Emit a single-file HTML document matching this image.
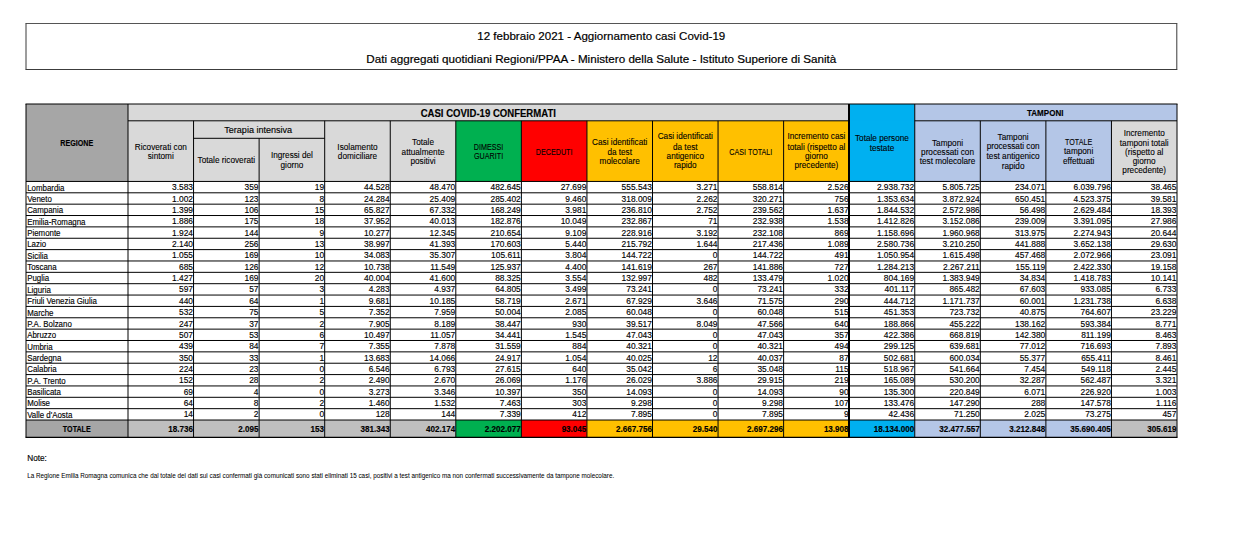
<!DOCTYPE html>
<html><head><meta charset="utf-8"><title>Covid-19 12 febbraio 2021</title>
<style>
html,body{margin:0;padding:0;background:#fff;}
body{width:1238px;height:558px;overflow:hidden;}
svg{display:block;font-family:"Liberation Sans",sans-serif;}
</style></head><body>
<svg width="1238" height="558" viewBox="0 0 1238 558">
<rect x="0" y="0" width="1238" height="558" fill="#fff"/>
<line x1="25.50" y1="23.50" x2="1177.30" y2="23.50" stroke="#555" stroke-width="1"/>
<line x1="25.50" y1="69.50" x2="1177.30" y2="69.50" stroke="#3c3c3c" stroke-width="1"/>
<line x1="26.00" y1="23.50" x2="26.00" y2="69.50" stroke="#3a3a3a" stroke-width="1"/>
<line x1="1176.80" y1="23.50" x2="1176.80" y2="69.50" stroke="#3a3a3a" stroke-width="1"/>
<text x="601.30" y="39.80" font-size="11.4" stroke="#000" stroke-width="0.2" text-anchor="middle" textLength="248.0" lengthAdjust="spacingAndGlyphs">12 febbraio 2021 - Aggiornamento casi Covid-19</text>
<text x="601.30" y="62.50" font-size="11.4" stroke="#000" stroke-width="0.2" text-anchor="middle" textLength="470.0" lengthAdjust="spacingAndGlyphs">Dati aggregati quotidiani Regioni/PPAA - Ministero della Salute - Istituto Superiore di Sanità</text>
<rect x="26.00" y="104.00" width="102.00" height="77.50" fill="#a6a6a6"/>
<rect x="128.00" y="104.00" width="721.19" height="16.80" fill="#d9d9d9"/>
<rect x="849.19" y="104.00" width="65.56" height="77.50" fill="#00b0f0"/>
<rect x="914.75" y="104.00" width="262.25" height="16.80" fill="#b4c6e7"/>
<rect x="128.00" y="120.80" width="65.56" height="60.70" fill="#d9d9d9"/>
<rect x="193.56" y="120.80" width="65.56" height="60.70" fill="#d9d9d9"/>
<rect x="259.12" y="120.80" width="65.56" height="60.70" fill="#d9d9d9"/>
<rect x="324.69" y="120.80" width="65.56" height="60.70" fill="#d9d9d9"/>
<rect x="390.25" y="120.80" width="65.56" height="60.70" fill="#d9d9d9"/>
<rect x="455.81" y="120.80" width="65.56" height="60.70" fill="#00b050"/>
<rect x="521.38" y="120.80" width="65.56" height="60.70" fill="#ff0000"/>
<rect x="586.94" y="120.80" width="65.56" height="60.70" fill="#ffc000"/>
<rect x="652.50" y="120.80" width="65.56" height="60.70" fill="#ffc000"/>
<rect x="718.06" y="120.80" width="65.56" height="60.70" fill="#ffc000"/>
<rect x="783.62" y="120.80" width="65.56" height="60.70" fill="#ffc000"/>
<rect x="849.19" y="120.80" width="65.56" height="60.70" fill="#00b0f0"/>
<rect x="914.75" y="120.80" width="65.56" height="60.70" fill="#b4c6e7"/>
<rect x="980.31" y="120.80" width="65.56" height="60.70" fill="#b4c6e7"/>
<rect x="1045.88" y="120.80" width="65.56" height="60.70" fill="#b4c6e7"/>
<rect x="1111.44" y="120.80" width="65.56" height="60.70" fill="#d9d9d9"/>
<rect x="26.00" y="420.02" width="102.00" height="17.38" fill="#a6a6a6"/>
<rect x="128.00" y="420.02" width="65.56" height="17.38" fill="#bfbfbf"/>
<rect x="193.56" y="420.02" width="65.56" height="17.38" fill="#bfbfbf"/>
<rect x="259.12" y="420.02" width="65.56" height="17.38" fill="#bfbfbf"/>
<rect x="324.69" y="420.02" width="65.56" height="17.38" fill="#bfbfbf"/>
<rect x="390.25" y="420.02" width="65.56" height="17.38" fill="#bfbfbf"/>
<rect x="455.81" y="420.02" width="65.56" height="17.38" fill="#00b050"/>
<rect x="521.38" y="420.02" width="65.56" height="17.38" fill="#ff0000"/>
<rect x="586.94" y="420.02" width="65.56" height="17.38" fill="#ffc000"/>
<rect x="652.50" y="420.02" width="65.56" height="17.38" fill="#ffc000"/>
<rect x="718.06" y="420.02" width="65.56" height="17.38" fill="#ffc000"/>
<rect x="783.62" y="420.02" width="65.56" height="17.38" fill="#ffc000"/>
<rect x="849.19" y="420.02" width="65.56" height="17.38" fill="#00b0f0"/>
<rect x="914.75" y="420.02" width="65.56" height="17.38" fill="#b4c6e7"/>
<rect x="980.31" y="420.02" width="65.56" height="17.38" fill="#b4c6e7"/>
<rect x="1045.88" y="420.02" width="65.56" height="17.38" fill="#b4c6e7"/>
<rect x="1111.44" y="420.02" width="65.56" height="17.38" fill="#bfbfbf"/>
<line x1="25.50" y1="104.00" x2="1177.50" y2="104.00" stroke="#000" stroke-width="1"/>
<line x1="128.00" y1="120.80" x2="849.19" y2="120.80" stroke="#000" stroke-width="1"/>
<line x1="914.75" y1="120.80" x2="1177.00" y2="120.80" stroke="#000" stroke-width="1"/>
<line x1="193.56" y1="138.30" x2="324.69" y2="138.30" stroke="#000" stroke-width="1"/>
<line x1="26.00" y1="181.44" x2="1177.00" y2="181.44" stroke="#000" stroke-width="1"/>
<line x1="26.00" y1="192.80" x2="1177.00" y2="192.80" stroke="#000" stroke-width="1"/>
<line x1="26.00" y1="204.16" x2="1177.00" y2="204.16" stroke="#000" stroke-width="1"/>
<line x1="26.00" y1="215.52" x2="1177.00" y2="215.52" stroke="#000" stroke-width="1"/>
<line x1="26.00" y1="226.88" x2="1177.00" y2="226.88" stroke="#000" stroke-width="1"/>
<line x1="26.00" y1="238.25" x2="1177.00" y2="238.25" stroke="#000" stroke-width="1"/>
<line x1="26.00" y1="249.61" x2="1177.00" y2="249.61" stroke="#000" stroke-width="1"/>
<line x1="26.00" y1="260.97" x2="1177.00" y2="260.97" stroke="#000" stroke-width="1"/>
<line x1="26.00" y1="272.33" x2="1177.00" y2="272.33" stroke="#000" stroke-width="1"/>
<line x1="26.00" y1="283.69" x2="1177.00" y2="283.69" stroke="#000" stroke-width="1"/>
<line x1="26.00" y1="295.05" x2="1177.00" y2="295.05" stroke="#000" stroke-width="1"/>
<line x1="26.00" y1="306.41" x2="1177.00" y2="306.41" stroke="#000" stroke-width="1"/>
<line x1="26.00" y1="317.77" x2="1177.00" y2="317.77" stroke="#000" stroke-width="1"/>
<line x1="26.00" y1="329.13" x2="1177.00" y2="329.13" stroke="#000" stroke-width="1"/>
<line x1="26.00" y1="340.49" x2="1177.00" y2="340.49" stroke="#000" stroke-width="1"/>
<line x1="26.00" y1="351.86" x2="1177.00" y2="351.86" stroke="#000" stroke-width="1"/>
<line x1="26.00" y1="363.22" x2="1177.00" y2="363.22" stroke="#000" stroke-width="1"/>
<line x1="26.00" y1="374.58" x2="1177.00" y2="374.58" stroke="#000" stroke-width="1"/>
<line x1="26.00" y1="385.94" x2="1177.00" y2="385.94" stroke="#000" stroke-width="1"/>
<line x1="26.00" y1="397.30" x2="1177.00" y2="397.30" stroke="#000" stroke-width="1"/>
<line x1="26.00" y1="408.66" x2="1177.00" y2="408.66" stroke="#000" stroke-width="1"/>
<line x1="26.00" y1="420.02" x2="1177.00" y2="420.02" stroke="#000" stroke-width="1"/>
<line x1="25.50" y1="437.40" x2="1177.50" y2="437.40" stroke="#000" stroke-width="1.2"/>
<line x1="26.00" y1="104.00" x2="26.00" y2="437.40" stroke="#000" stroke-width="1"/>
<line x1="128.00" y1="104.00" x2="128.00" y2="437.40" stroke="#000" stroke-width="1"/>
<line x1="193.56" y1="120.80" x2="193.56" y2="437.40" stroke="#000" stroke-width="1"/>
<line x1="259.12" y1="138.30" x2="259.12" y2="437.40" stroke="#000" stroke-width="1"/>
<line x1="324.69" y1="120.80" x2="324.69" y2="437.40" stroke="#000" stroke-width="1"/>
<line x1="390.25" y1="120.80" x2="390.25" y2="437.40" stroke="#000" stroke-width="1"/>
<line x1="455.81" y1="120.80" x2="455.81" y2="437.40" stroke="#000" stroke-width="1"/>
<line x1="521.38" y1="120.80" x2="521.38" y2="437.40" stroke="#000" stroke-width="1"/>
<line x1="586.94" y1="120.80" x2="586.94" y2="437.40" stroke="#000" stroke-width="1"/>
<line x1="652.50" y1="120.80" x2="652.50" y2="437.40" stroke="#000" stroke-width="1"/>
<line x1="718.06" y1="120.80" x2="718.06" y2="437.40" stroke="#000" stroke-width="1"/>
<line x1="783.62" y1="120.80" x2="783.62" y2="437.40" stroke="#000" stroke-width="1"/>
<line x1="849.0" y1="104.00" x2="849.0" y2="437.40" stroke="#000" stroke-width="2"/>
<line x1="914.75" y1="104.00" x2="914.75" y2="437.40" stroke="#000" stroke-width="1"/>
<line x1="980.31" y1="120.80" x2="980.31" y2="437.40" stroke="#000" stroke-width="1"/>
<line x1="1045.88" y1="120.80" x2="1045.88" y2="437.40" stroke="#000" stroke-width="1"/>
<line x1="1111.44" y1="120.80" x2="1111.44" y2="437.40" stroke="#000" stroke-width="1"/>
<line x1="1177.00" y1="104.00" x2="1177.00" y2="437.40" stroke="#000" stroke-width="1"/>
<text x="76.80" y="145.80" font-size="8.3" stroke="#000" stroke-width="0.14" text-anchor="middle" font-weight="bold" textLength="33.0" lengthAdjust="spacingAndGlyphs">REGIONE</text>
<text x="488.30" y="116.80" font-size="10.2" stroke="#000" stroke-width="0.14" text-anchor="middle" font-weight="bold" textLength="135.2" lengthAdjust="spacingAndGlyphs">CASI COVID-19 CONFERMATI</text>
<text x="1045.20" y="115.90" font-size="8.5" stroke="#000" stroke-width="0.14" text-anchor="middle" font-weight="bold" textLength="36.4" lengthAdjust="spacingAndGlyphs">TAMPONI</text>
<text x="258.20" y="132.90" font-size="9.4" stroke="#000" stroke-width="0.14" text-anchor="middle" textLength="67.9" lengthAdjust="spacingAndGlyphs">Terapia intensiva</text>
<text x="160.78" y="150.30" font-size="8.4" stroke="#000" stroke-width="0.1" text-anchor="middle" textLength="52.0" lengthAdjust="spacingAndGlyphs">Ricoverati con</text>
<text x="160.78" y="159.20" font-size="8.4" stroke="#000" stroke-width="0.1" text-anchor="middle" textLength="26.0" lengthAdjust="spacingAndGlyphs">sintomi</text>
<text x="226.34" y="163.30" font-size="8.4" stroke="#000" stroke-width="0.1" text-anchor="middle" textLength="57.5" lengthAdjust="spacingAndGlyphs">Totale ricoverati</text>
<text x="291.91" y="157.70" font-size="8.4" stroke="#000" stroke-width="0.1" text-anchor="middle" textLength="42.0" lengthAdjust="spacingAndGlyphs">Ingressi del</text>
<text x="291.91" y="168.00" font-size="8.4" stroke="#000" stroke-width="0.1" text-anchor="middle" textLength="22.8" lengthAdjust="spacingAndGlyphs">giorno</text>
<text x="357.47" y="150.20" font-size="8.4" stroke="#000" stroke-width="0.1" text-anchor="middle" textLength="40.2" lengthAdjust="spacingAndGlyphs">Isolamento</text>
<text x="357.47" y="159.40" font-size="8.4" stroke="#000" stroke-width="0.1" text-anchor="middle" textLength="39.2" lengthAdjust="spacingAndGlyphs">domiciliare</text>
<text x="423.03" y="145.20" font-size="8.4" stroke="#000" stroke-width="0.1" text-anchor="middle" textLength="21.9" lengthAdjust="spacingAndGlyphs">Totale</text>
<text x="423.03" y="155.00" font-size="8.4" stroke="#000" stroke-width="0.1" text-anchor="middle" textLength="42.9" lengthAdjust="spacingAndGlyphs">attualmente</text>
<text x="423.03" y="163.70" font-size="8.4" stroke="#000" stroke-width="0.1" text-anchor="middle" textLength="25.1" lengthAdjust="spacingAndGlyphs">positivi</text>
<text x="488.59" y="150.20" font-size="8.4" stroke="#000" stroke-width="0.1" text-anchor="middle" textLength="29.5" lengthAdjust="spacingAndGlyphs">DIMESSI</text>
<text x="488.59" y="159.40" font-size="8.4" stroke="#000" stroke-width="0.1" text-anchor="middle" textLength="29.1" lengthAdjust="spacingAndGlyphs">GUARITI</text>
<text x="554.16" y="155.00" font-size="8.4" stroke="#000" stroke-width="0.1" text-anchor="middle" textLength="36.6" lengthAdjust="spacingAndGlyphs">DECEDUTI</text>
<text x="619.72" y="144.60" font-size="8.4" stroke="#000" stroke-width="0.1" text-anchor="middle" textLength="55.2" lengthAdjust="spacingAndGlyphs">Casi identificati</text>
<text x="619.72" y="154.80" font-size="8.4" stroke="#000" stroke-width="0.1" text-anchor="middle" textLength="24.6" lengthAdjust="spacingAndGlyphs">da test</text>
<text x="619.72" y="163.80" font-size="8.4" stroke="#000" stroke-width="0.1" text-anchor="middle" textLength="40.2" lengthAdjust="spacingAndGlyphs">molecolare</text>
<text x="685.28" y="139.40" font-size="8.4" stroke="#000" stroke-width="0.1" text-anchor="middle" textLength="55.2" lengthAdjust="spacingAndGlyphs">Casi identificati</text>
<text x="685.28" y="149.80" font-size="8.4" stroke="#000" stroke-width="0.1" text-anchor="middle" textLength="24.6" lengthAdjust="spacingAndGlyphs">da test</text>
<text x="685.28" y="158.90" font-size="8.4" stroke="#000" stroke-width="0.1" text-anchor="middle" textLength="37.4" lengthAdjust="spacingAndGlyphs">antigenico</text>
<text x="685.28" y="168.40" font-size="8.4" stroke="#000" stroke-width="0.1" text-anchor="middle" textLength="22.8" lengthAdjust="spacingAndGlyphs">rapido</text>
<text x="750.84" y="154.80" font-size="8.4" stroke="#000" stroke-width="0.1" text-anchor="middle" textLength="43.0" lengthAdjust="spacingAndGlyphs">CASI TOTALI</text>
<text x="816.41" y="139.40" font-size="8.4" stroke="#000" stroke-width="0.1" text-anchor="middle" textLength="58.0" lengthAdjust="spacingAndGlyphs">Incremento casi</text>
<text x="816.41" y="149.80" font-size="8.4" stroke="#000" stroke-width="0.1" text-anchor="middle" textLength="58.0" lengthAdjust="spacingAndGlyphs">totali (rispetto al</text>
<text x="816.41" y="158.90" font-size="8.4" stroke="#000" stroke-width="0.1" text-anchor="middle" textLength="22.8" lengthAdjust="spacingAndGlyphs">giorno</text>
<text x="816.41" y="168.40" font-size="8.4" stroke="#000" stroke-width="0.1" text-anchor="middle" textLength="43.8" lengthAdjust="spacingAndGlyphs">precedente)</text>
<text x="881.97" y="141.10" font-size="8.4" stroke="#000" stroke-width="0.1" text-anchor="middle" textLength="53.9" lengthAdjust="spacingAndGlyphs">Totale persone</text>
<text x="881.97" y="151.30" font-size="8.4" stroke="#000" stroke-width="0.1" text-anchor="middle" textLength="24.6" lengthAdjust="spacingAndGlyphs">testate</text>
<text x="947.53" y="145.80" font-size="8.4" stroke="#000" stroke-width="0.1" text-anchor="middle" textLength="31.0" lengthAdjust="spacingAndGlyphs">Tamponi</text>
<text x="947.53" y="154.90" font-size="8.4" stroke="#000" stroke-width="0.1" text-anchor="middle" textLength="52.9" lengthAdjust="spacingAndGlyphs">processati con</text>
<text x="947.53" y="163.70" font-size="8.4" stroke="#000" stroke-width="0.1" text-anchor="middle" textLength="55.7" lengthAdjust="spacingAndGlyphs">test molecolare</text>
<text x="1013.09" y="139.90" font-size="8.4" stroke="#000" stroke-width="0.1" text-anchor="middle" textLength="31.0" lengthAdjust="spacingAndGlyphs">Tamponi</text>
<text x="1013.09" y="149.40" font-size="8.4" stroke="#000" stroke-width="0.1" text-anchor="middle" textLength="52.9" lengthAdjust="spacingAndGlyphs">processati con</text>
<text x="1013.09" y="159.00" font-size="8.4" stroke="#000" stroke-width="0.1" text-anchor="middle" textLength="53.0" lengthAdjust="spacingAndGlyphs">test antigenico</text>
<text x="1013.09" y="168.60" font-size="8.4" stroke="#000" stroke-width="0.1" text-anchor="middle" textLength="22.8" lengthAdjust="spacingAndGlyphs">rapido</text>
<text x="1078.66" y="145.00" font-size="8.4" stroke="#000" stroke-width="0.1" text-anchor="middle" textLength="27.2" lengthAdjust="spacingAndGlyphs">TOTALE</text>
<text x="1078.66" y="154.10" font-size="8.4" stroke="#000" stroke-width="0.1" text-anchor="middle" textLength="29.2" lengthAdjust="spacingAndGlyphs">tamponi</text>
<text x="1078.66" y="163.70" font-size="8.4" stroke="#000" stroke-width="0.1" text-anchor="middle" textLength="31.3" lengthAdjust="spacingAndGlyphs">effettuati</text>
<text x="1144.22" y="136.20" font-size="8.4" stroke="#000" stroke-width="0.1" text-anchor="middle" textLength="41.1" lengthAdjust="spacingAndGlyphs">Incremento</text>
<text x="1144.22" y="145.80" font-size="8.4" stroke="#000" stroke-width="0.1" text-anchor="middle" textLength="48.8" lengthAdjust="spacingAndGlyphs">tamponi totali</text>
<text x="1144.22" y="154.90" font-size="8.4" stroke="#000" stroke-width="0.1" text-anchor="middle" textLength="38.3" lengthAdjust="spacingAndGlyphs">(rispetto al</text>
<text x="1144.22" y="163.70" font-size="8.4" stroke="#000" stroke-width="0.1" text-anchor="middle" textLength="22.8" lengthAdjust="spacingAndGlyphs">giorno</text>
<text x="1144.22" y="173.30" font-size="8.4" stroke="#000" stroke-width="0.1" text-anchor="middle" textLength="43.8" lengthAdjust="spacingAndGlyphs">precedente)</text>
<text x="27.20" y="190.60" font-size="8.3" stroke="#000" stroke-width="0.14" textLength="37.3" lengthAdjust="spacingAndGlyphs">Lombardia</text>
<text x="192.96" y="190.20" font-size="8.4" stroke="#000" stroke-width="0.14" text-anchor="end">3.583</text>
<text x="258.52" y="190.20" font-size="8.4" stroke="#000" stroke-width="0.14" text-anchor="end">359</text>
<text x="324.09" y="190.20" font-size="8.4" stroke="#000" stroke-width="0.14" text-anchor="end">19</text>
<text x="389.65" y="190.20" font-size="8.4" stroke="#000" stroke-width="0.14" text-anchor="end">44.528</text>
<text x="455.21" y="190.20" font-size="8.4" stroke="#000" stroke-width="0.14" text-anchor="end">48.470</text>
<text x="520.77" y="190.20" font-size="8.4" stroke="#000" stroke-width="0.14" text-anchor="end">482.645</text>
<text x="586.34" y="190.20" font-size="8.4" stroke="#000" stroke-width="0.14" text-anchor="end">27.699</text>
<text x="651.90" y="190.20" font-size="8.4" stroke="#000" stroke-width="0.14" text-anchor="end">555.543</text>
<text x="717.46" y="190.20" font-size="8.4" stroke="#000" stroke-width="0.14" text-anchor="end">3.271</text>
<text x="783.02" y="190.20" font-size="8.4" stroke="#000" stroke-width="0.14" text-anchor="end">558.814</text>
<text x="848.59" y="190.20" font-size="8.4" stroke="#000" stroke-width="0.14" text-anchor="end">2.526</text>
<text x="914.15" y="190.20" font-size="8.4" stroke="#000" stroke-width="0.14" text-anchor="end">2.938.732</text>
<text x="979.71" y="190.20" font-size="8.4" stroke="#000" stroke-width="0.14" text-anchor="end">5.805.725</text>
<text x="1045.28" y="190.20" font-size="8.4" stroke="#000" stroke-width="0.14" text-anchor="end">234.071</text>
<text x="1110.84" y="190.20" font-size="8.4" stroke="#000" stroke-width="0.14" text-anchor="end">6.039.796</text>
<text x="1176.40" y="190.20" font-size="8.4" stroke="#000" stroke-width="0.14" text-anchor="end">38.465</text>
<text x="27.20" y="201.96" font-size="8.3" stroke="#000" stroke-width="0.14" textLength="24.6" lengthAdjust="spacingAndGlyphs">Veneto</text>
<text x="192.96" y="201.56" font-size="8.4" stroke="#000" stroke-width="0.14" text-anchor="end">1.002</text>
<text x="258.52" y="201.56" font-size="8.4" stroke="#000" stroke-width="0.14" text-anchor="end">123</text>
<text x="324.09" y="201.56" font-size="8.4" stroke="#000" stroke-width="0.14" text-anchor="end">8</text>
<text x="389.65" y="201.56" font-size="8.4" stroke="#000" stroke-width="0.14" text-anchor="end">24.284</text>
<text x="455.21" y="201.56" font-size="8.4" stroke="#000" stroke-width="0.14" text-anchor="end">25.409</text>
<text x="520.77" y="201.56" font-size="8.4" stroke="#000" stroke-width="0.14" text-anchor="end">285.402</text>
<text x="586.34" y="201.56" font-size="8.4" stroke="#000" stroke-width="0.14" text-anchor="end">9.460</text>
<text x="651.90" y="201.56" font-size="8.4" stroke="#000" stroke-width="0.14" text-anchor="end">318.009</text>
<text x="717.46" y="201.56" font-size="8.4" stroke="#000" stroke-width="0.14" text-anchor="end">2.262</text>
<text x="783.02" y="201.56" font-size="8.4" stroke="#000" stroke-width="0.14" text-anchor="end">320.271</text>
<text x="848.59" y="201.56" font-size="8.4" stroke="#000" stroke-width="0.14" text-anchor="end">756</text>
<text x="914.15" y="201.56" font-size="8.4" stroke="#000" stroke-width="0.14" text-anchor="end">1.353.634</text>
<text x="979.71" y="201.56" font-size="8.4" stroke="#000" stroke-width="0.14" text-anchor="end">3.872.924</text>
<text x="1045.28" y="201.56" font-size="8.4" stroke="#000" stroke-width="0.14" text-anchor="end">650.451</text>
<text x="1110.84" y="201.56" font-size="8.4" stroke="#000" stroke-width="0.14" text-anchor="end">4.523.375</text>
<text x="1176.40" y="201.56" font-size="8.4" stroke="#000" stroke-width="0.14" text-anchor="end">39.581</text>
<text x="27.20" y="213.32" font-size="8.3" stroke="#000" stroke-width="0.14" textLength="35.9" lengthAdjust="spacingAndGlyphs">Campania</text>
<text x="192.96" y="212.92" font-size="8.4" stroke="#000" stroke-width="0.14" text-anchor="end">1.399</text>
<text x="258.52" y="212.92" font-size="8.4" stroke="#000" stroke-width="0.14" text-anchor="end">106</text>
<text x="324.09" y="212.92" font-size="8.4" stroke="#000" stroke-width="0.14" text-anchor="end">15</text>
<text x="389.65" y="212.92" font-size="8.4" stroke="#000" stroke-width="0.14" text-anchor="end">65.827</text>
<text x="455.21" y="212.92" font-size="8.4" stroke="#000" stroke-width="0.14" text-anchor="end">67.332</text>
<text x="520.77" y="212.92" font-size="8.4" stroke="#000" stroke-width="0.14" text-anchor="end">168.249</text>
<text x="586.34" y="212.92" font-size="8.4" stroke="#000" stroke-width="0.14" text-anchor="end">3.981</text>
<text x="651.90" y="212.92" font-size="8.4" stroke="#000" stroke-width="0.14" text-anchor="end">236.810</text>
<text x="717.46" y="212.92" font-size="8.4" stroke="#000" stroke-width="0.14" text-anchor="end">2.752</text>
<text x="783.02" y="212.92" font-size="8.4" stroke="#000" stroke-width="0.14" text-anchor="end">239.562</text>
<text x="848.59" y="212.92" font-size="8.4" stroke="#000" stroke-width="0.14" text-anchor="end">1.637</text>
<text x="914.15" y="212.92" font-size="8.4" stroke="#000" stroke-width="0.14" text-anchor="end">1.844.532</text>
<text x="979.71" y="212.92" font-size="8.4" stroke="#000" stroke-width="0.14" text-anchor="end">2.572.986</text>
<text x="1045.28" y="212.92" font-size="8.4" stroke="#000" stroke-width="0.14" text-anchor="end">56.498</text>
<text x="1110.84" y="212.92" font-size="8.4" stroke="#000" stroke-width="0.14" text-anchor="end">2.629.484</text>
<text x="1176.40" y="212.92" font-size="8.4" stroke="#000" stroke-width="0.14" text-anchor="end">18.393</text>
<text x="27.20" y="224.68" font-size="8.3" stroke="#000" stroke-width="0.14" textLength="58.3" lengthAdjust="spacingAndGlyphs">Emilia-Romagna</text>
<text x="192.96" y="224.28" font-size="8.4" stroke="#000" stroke-width="0.14" text-anchor="end">1.886</text>
<text x="258.52" y="224.28" font-size="8.4" stroke="#000" stroke-width="0.14" text-anchor="end">175</text>
<text x="324.09" y="224.28" font-size="8.4" stroke="#000" stroke-width="0.14" text-anchor="end">18</text>
<text x="389.65" y="224.28" font-size="8.4" stroke="#000" stroke-width="0.14" text-anchor="end">37.952</text>
<text x="455.21" y="224.28" font-size="8.4" stroke="#000" stroke-width="0.14" text-anchor="end">40.013</text>
<text x="520.77" y="224.28" font-size="8.4" stroke="#000" stroke-width="0.14" text-anchor="end">182.876</text>
<text x="586.34" y="224.28" font-size="8.4" stroke="#000" stroke-width="0.14" text-anchor="end">10.049</text>
<text x="651.90" y="224.28" font-size="8.4" stroke="#000" stroke-width="0.14" text-anchor="end">232.867</text>
<text x="717.46" y="224.28" font-size="8.4" stroke="#000" stroke-width="0.14" text-anchor="end">71</text>
<text x="783.02" y="224.28" font-size="8.4" stroke="#000" stroke-width="0.14" text-anchor="end">232.938</text>
<text x="848.59" y="224.28" font-size="8.4" stroke="#000" stroke-width="0.14" text-anchor="end">1.538</text>
<text x="914.15" y="224.28" font-size="8.4" stroke="#000" stroke-width="0.14" text-anchor="end">1.412.826</text>
<text x="979.71" y="224.28" font-size="8.4" stroke="#000" stroke-width="0.14" text-anchor="end">3.152.086</text>
<text x="1045.28" y="224.28" font-size="8.4" stroke="#000" stroke-width="0.14" text-anchor="end">239.009</text>
<text x="1110.84" y="224.28" font-size="8.4" stroke="#000" stroke-width="0.14" text-anchor="end">3.391.095</text>
<text x="1176.40" y="224.28" font-size="8.4" stroke="#000" stroke-width="0.14" text-anchor="end">27.986</text>
<text x="27.20" y="236.05" font-size="8.3" stroke="#000" stroke-width="0.14" textLength="33.3" lengthAdjust="spacingAndGlyphs">Piemonte</text>
<text x="192.96" y="235.65" font-size="8.4" stroke="#000" stroke-width="0.14" text-anchor="end">1.924</text>
<text x="258.52" y="235.65" font-size="8.4" stroke="#000" stroke-width="0.14" text-anchor="end">144</text>
<text x="324.09" y="235.65" font-size="8.4" stroke="#000" stroke-width="0.14" text-anchor="end">9</text>
<text x="389.65" y="235.65" font-size="8.4" stroke="#000" stroke-width="0.14" text-anchor="end">10.277</text>
<text x="455.21" y="235.65" font-size="8.4" stroke="#000" stroke-width="0.14" text-anchor="end">12.345</text>
<text x="520.77" y="235.65" font-size="8.4" stroke="#000" stroke-width="0.14" text-anchor="end">210.654</text>
<text x="586.34" y="235.65" font-size="8.4" stroke="#000" stroke-width="0.14" text-anchor="end">9.109</text>
<text x="651.90" y="235.65" font-size="8.4" stroke="#000" stroke-width="0.14" text-anchor="end">228.916</text>
<text x="717.46" y="235.65" font-size="8.4" stroke="#000" stroke-width="0.14" text-anchor="end">3.192</text>
<text x="783.02" y="235.65" font-size="8.4" stroke="#000" stroke-width="0.14" text-anchor="end">232.108</text>
<text x="848.59" y="235.65" font-size="8.4" stroke="#000" stroke-width="0.14" text-anchor="end">869</text>
<text x="914.15" y="235.65" font-size="8.4" stroke="#000" stroke-width="0.14" text-anchor="end">1.158.696</text>
<text x="979.71" y="235.65" font-size="8.4" stroke="#000" stroke-width="0.14" text-anchor="end">1.960.968</text>
<text x="1045.28" y="235.65" font-size="8.4" stroke="#000" stroke-width="0.14" text-anchor="end">313.975</text>
<text x="1110.84" y="235.65" font-size="8.4" stroke="#000" stroke-width="0.14" text-anchor="end">2.274.943</text>
<text x="1176.40" y="235.65" font-size="8.4" stroke="#000" stroke-width="0.14" text-anchor="end">20.644</text>
<text x="27.20" y="247.41" font-size="8.3" stroke="#000" stroke-width="0.14" textLength="18.9" lengthAdjust="spacingAndGlyphs">Lazio</text>
<text x="192.96" y="247.01" font-size="8.4" stroke="#000" stroke-width="0.14" text-anchor="end">2.140</text>
<text x="258.52" y="247.01" font-size="8.4" stroke="#000" stroke-width="0.14" text-anchor="end">256</text>
<text x="324.09" y="247.01" font-size="8.4" stroke="#000" stroke-width="0.14" text-anchor="end">13</text>
<text x="389.65" y="247.01" font-size="8.4" stroke="#000" stroke-width="0.14" text-anchor="end">38.997</text>
<text x="455.21" y="247.01" font-size="8.4" stroke="#000" stroke-width="0.14" text-anchor="end">41.393</text>
<text x="520.77" y="247.01" font-size="8.4" stroke="#000" stroke-width="0.14" text-anchor="end">170.603</text>
<text x="586.34" y="247.01" font-size="8.4" stroke="#000" stroke-width="0.14" text-anchor="end">5.440</text>
<text x="651.90" y="247.01" font-size="8.4" stroke="#000" stroke-width="0.14" text-anchor="end">215.792</text>
<text x="717.46" y="247.01" font-size="8.4" stroke="#000" stroke-width="0.14" text-anchor="end">1.644</text>
<text x="783.02" y="247.01" font-size="8.4" stroke="#000" stroke-width="0.14" text-anchor="end">217.436</text>
<text x="848.59" y="247.01" font-size="8.4" stroke="#000" stroke-width="0.14" text-anchor="end">1.089</text>
<text x="914.15" y="247.01" font-size="8.4" stroke="#000" stroke-width="0.14" text-anchor="end">2.580.736</text>
<text x="979.71" y="247.01" font-size="8.4" stroke="#000" stroke-width="0.14" text-anchor="end">3.210.250</text>
<text x="1045.28" y="247.01" font-size="8.4" stroke="#000" stroke-width="0.14" text-anchor="end">441.888</text>
<text x="1110.84" y="247.01" font-size="8.4" stroke="#000" stroke-width="0.14" text-anchor="end">3.652.138</text>
<text x="1176.40" y="247.01" font-size="8.4" stroke="#000" stroke-width="0.14" text-anchor="end">29.630</text>
<text x="27.20" y="258.77" font-size="8.3" stroke="#000" stroke-width="0.14" textLength="20.6" lengthAdjust="spacingAndGlyphs">Sicilia</text>
<text x="192.96" y="258.37" font-size="8.4" stroke="#000" stroke-width="0.14" text-anchor="end">1.055</text>
<text x="258.52" y="258.37" font-size="8.4" stroke="#000" stroke-width="0.14" text-anchor="end">169</text>
<text x="324.09" y="258.37" font-size="8.4" stroke="#000" stroke-width="0.14" text-anchor="end">10</text>
<text x="389.65" y="258.37" font-size="8.4" stroke="#000" stroke-width="0.14" text-anchor="end">34.083</text>
<text x="455.21" y="258.37" font-size="8.4" stroke="#000" stroke-width="0.14" text-anchor="end">35.307</text>
<text x="520.77" y="258.37" font-size="8.4" stroke="#000" stroke-width="0.14" text-anchor="end">105.611</text>
<text x="586.34" y="258.37" font-size="8.4" stroke="#000" stroke-width="0.14" text-anchor="end">3.804</text>
<text x="651.90" y="258.37" font-size="8.4" stroke="#000" stroke-width="0.14" text-anchor="end">144.722</text>
<text x="717.46" y="258.37" font-size="8.4" stroke="#000" stroke-width="0.14" text-anchor="end">0</text>
<text x="783.02" y="258.37" font-size="8.4" stroke="#000" stroke-width="0.14" text-anchor="end">144.722</text>
<text x="848.59" y="258.37" font-size="8.4" stroke="#000" stroke-width="0.14" text-anchor="end">491</text>
<text x="914.15" y="258.37" font-size="8.4" stroke="#000" stroke-width="0.14" text-anchor="end">1.050.954</text>
<text x="979.71" y="258.37" font-size="8.4" stroke="#000" stroke-width="0.14" text-anchor="end">1.615.498</text>
<text x="1045.28" y="258.37" font-size="8.4" stroke="#000" stroke-width="0.14" text-anchor="end">457.468</text>
<text x="1110.84" y="258.37" font-size="8.4" stroke="#000" stroke-width="0.14" text-anchor="end">2.072.966</text>
<text x="1176.40" y="258.37" font-size="8.4" stroke="#000" stroke-width="0.14" text-anchor="end">23.091</text>
<text x="27.20" y="270.13" font-size="8.3" stroke="#000" stroke-width="0.14" textLength="29.4" lengthAdjust="spacingAndGlyphs">Toscana</text>
<text x="192.96" y="269.73" font-size="8.4" stroke="#000" stroke-width="0.14" text-anchor="end">685</text>
<text x="258.52" y="269.73" font-size="8.4" stroke="#000" stroke-width="0.14" text-anchor="end">126</text>
<text x="324.09" y="269.73" font-size="8.4" stroke="#000" stroke-width="0.14" text-anchor="end">12</text>
<text x="389.65" y="269.73" font-size="8.4" stroke="#000" stroke-width="0.14" text-anchor="end">10.738</text>
<text x="455.21" y="269.73" font-size="8.4" stroke="#000" stroke-width="0.14" text-anchor="end">11.549</text>
<text x="520.77" y="269.73" font-size="8.4" stroke="#000" stroke-width="0.14" text-anchor="end">125.937</text>
<text x="586.34" y="269.73" font-size="8.4" stroke="#000" stroke-width="0.14" text-anchor="end">4.400</text>
<text x="651.90" y="269.73" font-size="8.4" stroke="#000" stroke-width="0.14" text-anchor="end">141.619</text>
<text x="717.46" y="269.73" font-size="8.4" stroke="#000" stroke-width="0.14" text-anchor="end">267</text>
<text x="783.02" y="269.73" font-size="8.4" stroke="#000" stroke-width="0.14" text-anchor="end">141.886</text>
<text x="848.59" y="269.73" font-size="8.4" stroke="#000" stroke-width="0.14" text-anchor="end">727</text>
<text x="914.15" y="269.73" font-size="8.4" stroke="#000" stroke-width="0.14" text-anchor="end">1.284.213</text>
<text x="979.71" y="269.73" font-size="8.4" stroke="#000" stroke-width="0.14" text-anchor="end">2.267.211</text>
<text x="1045.28" y="269.73" font-size="8.4" stroke="#000" stroke-width="0.14" text-anchor="end">155.119</text>
<text x="1110.84" y="269.73" font-size="8.4" stroke="#000" stroke-width="0.14" text-anchor="end">2.422.330</text>
<text x="1176.40" y="269.73" font-size="8.4" stroke="#000" stroke-width="0.14" text-anchor="end">19.158</text>
<text x="27.20" y="281.49" font-size="8.3" stroke="#000" stroke-width="0.14" textLength="21.9" lengthAdjust="spacingAndGlyphs">Puglia</text>
<text x="192.96" y="281.09" font-size="8.4" stroke="#000" stroke-width="0.14" text-anchor="end">1.427</text>
<text x="258.52" y="281.09" font-size="8.4" stroke="#000" stroke-width="0.14" text-anchor="end">169</text>
<text x="324.09" y="281.09" font-size="8.4" stroke="#000" stroke-width="0.14" text-anchor="end">20</text>
<text x="389.65" y="281.09" font-size="8.4" stroke="#000" stroke-width="0.14" text-anchor="end">40.004</text>
<text x="455.21" y="281.09" font-size="8.4" stroke="#000" stroke-width="0.14" text-anchor="end">41.600</text>
<text x="520.77" y="281.09" font-size="8.4" stroke="#000" stroke-width="0.14" text-anchor="end">88.325</text>
<text x="586.34" y="281.09" font-size="8.4" stroke="#000" stroke-width="0.14" text-anchor="end">3.554</text>
<text x="651.90" y="281.09" font-size="8.4" stroke="#000" stroke-width="0.14" text-anchor="end">132.997</text>
<text x="717.46" y="281.09" font-size="8.4" stroke="#000" stroke-width="0.14" text-anchor="end">482</text>
<text x="783.02" y="281.09" font-size="8.4" stroke="#000" stroke-width="0.14" text-anchor="end">133.479</text>
<text x="848.59" y="281.09" font-size="8.4" stroke="#000" stroke-width="0.14" text-anchor="end">1.020</text>
<text x="914.15" y="281.09" font-size="8.4" stroke="#000" stroke-width="0.14" text-anchor="end">804.169</text>
<text x="979.71" y="281.09" font-size="8.4" stroke="#000" stroke-width="0.14" text-anchor="end">1.383.949</text>
<text x="1045.28" y="281.09" font-size="8.4" stroke="#000" stroke-width="0.14" text-anchor="end">34.834</text>
<text x="1110.84" y="281.09" font-size="8.4" stroke="#000" stroke-width="0.14" text-anchor="end">1.418.783</text>
<text x="1176.40" y="281.09" font-size="8.4" stroke="#000" stroke-width="0.14" text-anchor="end">10.141</text>
<text x="27.20" y="292.85" font-size="8.3" stroke="#000" stroke-width="0.14" textLength="23.7" lengthAdjust="spacingAndGlyphs">Liguria</text>
<text x="192.96" y="292.45" font-size="8.4" stroke="#000" stroke-width="0.14" text-anchor="end">597</text>
<text x="258.52" y="292.45" font-size="8.4" stroke="#000" stroke-width="0.14" text-anchor="end">57</text>
<text x="324.09" y="292.45" font-size="8.4" stroke="#000" stroke-width="0.14" text-anchor="end">3</text>
<text x="389.65" y="292.45" font-size="8.4" stroke="#000" stroke-width="0.14" text-anchor="end">4.283</text>
<text x="455.21" y="292.45" font-size="8.4" stroke="#000" stroke-width="0.14" text-anchor="end">4.937</text>
<text x="520.77" y="292.45" font-size="8.4" stroke="#000" stroke-width="0.14" text-anchor="end">64.805</text>
<text x="586.34" y="292.45" font-size="8.4" stroke="#000" stroke-width="0.14" text-anchor="end">3.499</text>
<text x="651.90" y="292.45" font-size="8.4" stroke="#000" stroke-width="0.14" text-anchor="end">73.241</text>
<text x="717.46" y="292.45" font-size="8.4" stroke="#000" stroke-width="0.14" text-anchor="end">0</text>
<text x="783.02" y="292.45" font-size="8.4" stroke="#000" stroke-width="0.14" text-anchor="end">73.241</text>
<text x="848.59" y="292.45" font-size="8.4" stroke="#000" stroke-width="0.14" text-anchor="end">332</text>
<text x="914.15" y="292.45" font-size="8.4" stroke="#000" stroke-width="0.14" text-anchor="end">401.117</text>
<text x="979.71" y="292.45" font-size="8.4" stroke="#000" stroke-width="0.14" text-anchor="end">865.482</text>
<text x="1045.28" y="292.45" font-size="8.4" stroke="#000" stroke-width="0.14" text-anchor="end">67.603</text>
<text x="1110.84" y="292.45" font-size="8.4" stroke="#000" stroke-width="0.14" text-anchor="end">933.085</text>
<text x="1176.40" y="292.45" font-size="8.4" stroke="#000" stroke-width="0.14" text-anchor="end">6.733</text>
<text x="27.20" y="304.21" font-size="8.3" stroke="#000" stroke-width="0.14" textLength="69.7" lengthAdjust="spacingAndGlyphs">Friuli Venezia Giulia</text>
<text x="192.96" y="303.81" font-size="8.4" stroke="#000" stroke-width="0.14" text-anchor="end">440</text>
<text x="258.52" y="303.81" font-size="8.4" stroke="#000" stroke-width="0.14" text-anchor="end">64</text>
<text x="324.09" y="303.81" font-size="8.4" stroke="#000" stroke-width="0.14" text-anchor="end">1</text>
<text x="389.65" y="303.81" font-size="8.4" stroke="#000" stroke-width="0.14" text-anchor="end">9.681</text>
<text x="455.21" y="303.81" font-size="8.4" stroke="#000" stroke-width="0.14" text-anchor="end">10.185</text>
<text x="520.77" y="303.81" font-size="8.4" stroke="#000" stroke-width="0.14" text-anchor="end">58.719</text>
<text x="586.34" y="303.81" font-size="8.4" stroke="#000" stroke-width="0.14" text-anchor="end">2.671</text>
<text x="651.90" y="303.81" font-size="8.4" stroke="#000" stroke-width="0.14" text-anchor="end">67.929</text>
<text x="717.46" y="303.81" font-size="8.4" stroke="#000" stroke-width="0.14" text-anchor="end">3.646</text>
<text x="783.02" y="303.81" font-size="8.4" stroke="#000" stroke-width="0.14" text-anchor="end">71.575</text>
<text x="848.59" y="303.81" font-size="8.4" stroke="#000" stroke-width="0.14" text-anchor="end">290</text>
<text x="914.15" y="303.81" font-size="8.4" stroke="#000" stroke-width="0.14" text-anchor="end">444.712</text>
<text x="979.71" y="303.81" font-size="8.4" stroke="#000" stroke-width="0.14" text-anchor="end">1.171.737</text>
<text x="1045.28" y="303.81" font-size="8.4" stroke="#000" stroke-width="0.14" text-anchor="end">60.001</text>
<text x="1110.84" y="303.81" font-size="8.4" stroke="#000" stroke-width="0.14" text-anchor="end">1.231.738</text>
<text x="1176.40" y="303.81" font-size="8.4" stroke="#000" stroke-width="0.14" text-anchor="end">6.638</text>
<text x="27.20" y="315.57" font-size="8.3" stroke="#000" stroke-width="0.14" textLength="26.3" lengthAdjust="spacingAndGlyphs">Marche</text>
<text x="192.96" y="315.17" font-size="8.4" stroke="#000" stroke-width="0.14" text-anchor="end">532</text>
<text x="258.52" y="315.17" font-size="8.4" stroke="#000" stroke-width="0.14" text-anchor="end">75</text>
<text x="324.09" y="315.17" font-size="8.4" stroke="#000" stroke-width="0.14" text-anchor="end">5</text>
<text x="389.65" y="315.17" font-size="8.4" stroke="#000" stroke-width="0.14" text-anchor="end">7.352</text>
<text x="455.21" y="315.17" font-size="8.4" stroke="#000" stroke-width="0.14" text-anchor="end">7.959</text>
<text x="520.77" y="315.17" font-size="8.4" stroke="#000" stroke-width="0.14" text-anchor="end">50.004</text>
<text x="586.34" y="315.17" font-size="8.4" stroke="#000" stroke-width="0.14" text-anchor="end">2.085</text>
<text x="651.90" y="315.17" font-size="8.4" stroke="#000" stroke-width="0.14" text-anchor="end">60.048</text>
<text x="717.46" y="315.17" font-size="8.4" stroke="#000" stroke-width="0.14" text-anchor="end">0</text>
<text x="783.02" y="315.17" font-size="8.4" stroke="#000" stroke-width="0.14" text-anchor="end">60.048</text>
<text x="848.59" y="315.17" font-size="8.4" stroke="#000" stroke-width="0.14" text-anchor="end">515</text>
<text x="914.15" y="315.17" font-size="8.4" stroke="#000" stroke-width="0.14" text-anchor="end">451.353</text>
<text x="979.71" y="315.17" font-size="8.4" stroke="#000" stroke-width="0.14" text-anchor="end">723.732</text>
<text x="1045.28" y="315.17" font-size="8.4" stroke="#000" stroke-width="0.14" text-anchor="end">40.875</text>
<text x="1110.84" y="315.17" font-size="8.4" stroke="#000" stroke-width="0.14" text-anchor="end">764.607</text>
<text x="1176.40" y="315.17" font-size="8.4" stroke="#000" stroke-width="0.14" text-anchor="end">23.229</text>
<text x="27.20" y="326.93" font-size="8.3" stroke="#000" stroke-width="0.14" textLength="44.6" lengthAdjust="spacingAndGlyphs">P.A. Bolzano</text>
<text x="192.96" y="326.53" font-size="8.4" stroke="#000" stroke-width="0.14" text-anchor="end">247</text>
<text x="258.52" y="326.53" font-size="8.4" stroke="#000" stroke-width="0.14" text-anchor="end">37</text>
<text x="324.09" y="326.53" font-size="8.4" stroke="#000" stroke-width="0.14" text-anchor="end">2</text>
<text x="389.65" y="326.53" font-size="8.4" stroke="#000" stroke-width="0.14" text-anchor="end">7.905</text>
<text x="455.21" y="326.53" font-size="8.4" stroke="#000" stroke-width="0.14" text-anchor="end">8.189</text>
<text x="520.77" y="326.53" font-size="8.4" stroke="#000" stroke-width="0.14" text-anchor="end">38.447</text>
<text x="586.34" y="326.53" font-size="8.4" stroke="#000" stroke-width="0.14" text-anchor="end">930</text>
<text x="651.90" y="326.53" font-size="8.4" stroke="#000" stroke-width="0.14" text-anchor="end">39.517</text>
<text x="717.46" y="326.53" font-size="8.4" stroke="#000" stroke-width="0.14" text-anchor="end">8.049</text>
<text x="783.02" y="326.53" font-size="8.4" stroke="#000" stroke-width="0.14" text-anchor="end">47.566</text>
<text x="848.59" y="326.53" font-size="8.4" stroke="#000" stroke-width="0.14" text-anchor="end">640</text>
<text x="914.15" y="326.53" font-size="8.4" stroke="#000" stroke-width="0.14" text-anchor="end">188.866</text>
<text x="979.71" y="326.53" font-size="8.4" stroke="#000" stroke-width="0.14" text-anchor="end">455.222</text>
<text x="1045.28" y="326.53" font-size="8.4" stroke="#000" stroke-width="0.14" text-anchor="end">138.162</text>
<text x="1110.84" y="326.53" font-size="8.4" stroke="#000" stroke-width="0.14" text-anchor="end">593.384</text>
<text x="1176.40" y="326.53" font-size="8.4" stroke="#000" stroke-width="0.14" text-anchor="end">8.771</text>
<text x="27.20" y="338.29" font-size="8.3" stroke="#000" stroke-width="0.14" textLength="28.9" lengthAdjust="spacingAndGlyphs">Abruzzo</text>
<text x="192.96" y="337.89" font-size="8.4" stroke="#000" stroke-width="0.14" text-anchor="end">507</text>
<text x="258.52" y="337.89" font-size="8.4" stroke="#000" stroke-width="0.14" text-anchor="end">53</text>
<text x="324.09" y="337.89" font-size="8.4" stroke="#000" stroke-width="0.14" text-anchor="end">6</text>
<text x="389.65" y="337.89" font-size="8.4" stroke="#000" stroke-width="0.14" text-anchor="end">10.497</text>
<text x="455.21" y="337.89" font-size="8.4" stroke="#000" stroke-width="0.14" text-anchor="end">11.057</text>
<text x="520.77" y="337.89" font-size="8.4" stroke="#000" stroke-width="0.14" text-anchor="end">34.441</text>
<text x="586.34" y="337.89" font-size="8.4" stroke="#000" stroke-width="0.14" text-anchor="end">1.545</text>
<text x="651.90" y="337.89" font-size="8.4" stroke="#000" stroke-width="0.14" text-anchor="end">47.043</text>
<text x="717.46" y="337.89" font-size="8.4" stroke="#000" stroke-width="0.14" text-anchor="end">0</text>
<text x="783.02" y="337.89" font-size="8.4" stroke="#000" stroke-width="0.14" text-anchor="end">47.043</text>
<text x="848.59" y="337.89" font-size="8.4" stroke="#000" stroke-width="0.14" text-anchor="end">357</text>
<text x="914.15" y="337.89" font-size="8.4" stroke="#000" stroke-width="0.14" text-anchor="end">422.386</text>
<text x="979.71" y="337.89" font-size="8.4" stroke="#000" stroke-width="0.14" text-anchor="end">668.819</text>
<text x="1045.28" y="337.89" font-size="8.4" stroke="#000" stroke-width="0.14" text-anchor="end">142.380</text>
<text x="1110.84" y="337.89" font-size="8.4" stroke="#000" stroke-width="0.14" text-anchor="end">811.199</text>
<text x="1176.40" y="337.89" font-size="8.4" stroke="#000" stroke-width="0.14" text-anchor="end">8.463</text>
<text x="27.20" y="349.66" font-size="8.3" stroke="#000" stroke-width="0.14" textLength="25.4" lengthAdjust="spacingAndGlyphs">Umbria</text>
<text x="192.96" y="349.25" font-size="8.4" stroke="#000" stroke-width="0.14" text-anchor="end">439</text>
<text x="258.52" y="349.25" font-size="8.4" stroke="#000" stroke-width="0.14" text-anchor="end">84</text>
<text x="324.09" y="349.25" font-size="8.4" stroke="#000" stroke-width="0.14" text-anchor="end">7</text>
<text x="389.65" y="349.25" font-size="8.4" stroke="#000" stroke-width="0.14" text-anchor="end">7.355</text>
<text x="455.21" y="349.25" font-size="8.4" stroke="#000" stroke-width="0.14" text-anchor="end">7.878</text>
<text x="520.77" y="349.25" font-size="8.4" stroke="#000" stroke-width="0.14" text-anchor="end">31.559</text>
<text x="586.34" y="349.25" font-size="8.4" stroke="#000" stroke-width="0.14" text-anchor="end">884</text>
<text x="651.90" y="349.25" font-size="8.4" stroke="#000" stroke-width="0.14" text-anchor="end">40.321</text>
<text x="717.46" y="349.25" font-size="8.4" stroke="#000" stroke-width="0.14" text-anchor="end">0</text>
<text x="783.02" y="349.25" font-size="8.4" stroke="#000" stroke-width="0.14" text-anchor="end">40.321</text>
<text x="848.59" y="349.25" font-size="8.4" stroke="#000" stroke-width="0.14" text-anchor="end">494</text>
<text x="914.15" y="349.25" font-size="8.4" stroke="#000" stroke-width="0.14" text-anchor="end">299.125</text>
<text x="979.71" y="349.25" font-size="8.4" stroke="#000" stroke-width="0.14" text-anchor="end">639.681</text>
<text x="1045.28" y="349.25" font-size="8.4" stroke="#000" stroke-width="0.14" text-anchor="end">77.012</text>
<text x="1110.84" y="349.25" font-size="8.4" stroke="#000" stroke-width="0.14" text-anchor="end">716.693</text>
<text x="1176.40" y="349.25" font-size="8.4" stroke="#000" stroke-width="0.14" text-anchor="end">7.893</text>
<text x="27.20" y="361.02" font-size="8.3" stroke="#000" stroke-width="0.14" textLength="34.2" lengthAdjust="spacingAndGlyphs">Sardegna</text>
<text x="192.96" y="360.62" font-size="8.4" stroke="#000" stroke-width="0.14" text-anchor="end">350</text>
<text x="258.52" y="360.62" font-size="8.4" stroke="#000" stroke-width="0.14" text-anchor="end">33</text>
<text x="324.09" y="360.62" font-size="8.4" stroke="#000" stroke-width="0.14" text-anchor="end">1</text>
<text x="389.65" y="360.62" font-size="8.4" stroke="#000" stroke-width="0.14" text-anchor="end">13.683</text>
<text x="455.21" y="360.62" font-size="8.4" stroke="#000" stroke-width="0.14" text-anchor="end">14.066</text>
<text x="520.77" y="360.62" font-size="8.4" stroke="#000" stroke-width="0.14" text-anchor="end">24.917</text>
<text x="586.34" y="360.62" font-size="8.4" stroke="#000" stroke-width="0.14" text-anchor="end">1.054</text>
<text x="651.90" y="360.62" font-size="8.4" stroke="#000" stroke-width="0.14" text-anchor="end">40.025</text>
<text x="717.46" y="360.62" font-size="8.4" stroke="#000" stroke-width="0.14" text-anchor="end">12</text>
<text x="783.02" y="360.62" font-size="8.4" stroke="#000" stroke-width="0.14" text-anchor="end">40.037</text>
<text x="848.59" y="360.62" font-size="8.4" stroke="#000" stroke-width="0.14" text-anchor="end">87</text>
<text x="914.15" y="360.62" font-size="8.4" stroke="#000" stroke-width="0.14" text-anchor="end">502.681</text>
<text x="979.71" y="360.62" font-size="8.4" stroke="#000" stroke-width="0.14" text-anchor="end">600.034</text>
<text x="1045.28" y="360.62" font-size="8.4" stroke="#000" stroke-width="0.14" text-anchor="end">55.377</text>
<text x="1110.84" y="360.62" font-size="8.4" stroke="#000" stroke-width="0.14" text-anchor="end">655.411</text>
<text x="1176.40" y="360.62" font-size="8.4" stroke="#000" stroke-width="0.14" text-anchor="end">8.461</text>
<text x="27.20" y="372.38" font-size="8.3" stroke="#000" stroke-width="0.14" textLength="29.4" lengthAdjust="spacingAndGlyphs">Calabria</text>
<text x="192.96" y="371.98" font-size="8.4" stroke="#000" stroke-width="0.14" text-anchor="end">224</text>
<text x="258.52" y="371.98" font-size="8.4" stroke="#000" stroke-width="0.14" text-anchor="end">23</text>
<text x="324.09" y="371.98" font-size="8.4" stroke="#000" stroke-width="0.14" text-anchor="end">0</text>
<text x="389.65" y="371.98" font-size="8.4" stroke="#000" stroke-width="0.14" text-anchor="end">6.546</text>
<text x="455.21" y="371.98" font-size="8.4" stroke="#000" stroke-width="0.14" text-anchor="end">6.793</text>
<text x="520.77" y="371.98" font-size="8.4" stroke="#000" stroke-width="0.14" text-anchor="end">27.615</text>
<text x="586.34" y="371.98" font-size="8.4" stroke="#000" stroke-width="0.14" text-anchor="end">640</text>
<text x="651.90" y="371.98" font-size="8.4" stroke="#000" stroke-width="0.14" text-anchor="end">35.042</text>
<text x="717.46" y="371.98" font-size="8.4" stroke="#000" stroke-width="0.14" text-anchor="end">6</text>
<text x="783.02" y="371.98" font-size="8.4" stroke="#000" stroke-width="0.14" text-anchor="end">35.048</text>
<text x="848.59" y="371.98" font-size="8.4" stroke="#000" stroke-width="0.14" text-anchor="end">115</text>
<text x="914.15" y="371.98" font-size="8.4" stroke="#000" stroke-width="0.14" text-anchor="end">518.967</text>
<text x="979.71" y="371.98" font-size="8.4" stroke="#000" stroke-width="0.14" text-anchor="end">541.664</text>
<text x="1045.28" y="371.98" font-size="8.4" stroke="#000" stroke-width="0.14" text-anchor="end">7.454</text>
<text x="1110.84" y="371.98" font-size="8.4" stroke="#000" stroke-width="0.14" text-anchor="end">549.118</text>
<text x="1176.40" y="371.98" font-size="8.4" stroke="#000" stroke-width="0.14" text-anchor="end">2.445</text>
<text x="27.20" y="383.74" font-size="8.3" stroke="#000" stroke-width="0.14" textLength="38.4" lengthAdjust="spacingAndGlyphs">P.A. Trento</text>
<text x="192.96" y="383.34" font-size="8.4" stroke="#000" stroke-width="0.14" text-anchor="end">152</text>
<text x="258.52" y="383.34" font-size="8.4" stroke="#000" stroke-width="0.14" text-anchor="end">28</text>
<text x="324.09" y="383.34" font-size="8.4" stroke="#000" stroke-width="0.14" text-anchor="end">2</text>
<text x="389.65" y="383.34" font-size="8.4" stroke="#000" stroke-width="0.14" text-anchor="end">2.490</text>
<text x="455.21" y="383.34" font-size="8.4" stroke="#000" stroke-width="0.14" text-anchor="end">2.670</text>
<text x="520.77" y="383.34" font-size="8.4" stroke="#000" stroke-width="0.14" text-anchor="end">26.069</text>
<text x="586.34" y="383.34" font-size="8.4" stroke="#000" stroke-width="0.14" text-anchor="end">1.176</text>
<text x="651.90" y="383.34" font-size="8.4" stroke="#000" stroke-width="0.14" text-anchor="end">26.029</text>
<text x="717.46" y="383.34" font-size="8.4" stroke="#000" stroke-width="0.14" text-anchor="end">3.886</text>
<text x="783.02" y="383.34" font-size="8.4" stroke="#000" stroke-width="0.14" text-anchor="end">29.915</text>
<text x="848.59" y="383.34" font-size="8.4" stroke="#000" stroke-width="0.14" text-anchor="end">219</text>
<text x="914.15" y="383.34" font-size="8.4" stroke="#000" stroke-width="0.14" text-anchor="end">165.089</text>
<text x="979.71" y="383.34" font-size="8.4" stroke="#000" stroke-width="0.14" text-anchor="end">530.200</text>
<text x="1045.28" y="383.34" font-size="8.4" stroke="#000" stroke-width="0.14" text-anchor="end">32.287</text>
<text x="1110.84" y="383.34" font-size="8.4" stroke="#000" stroke-width="0.14" text-anchor="end">562.487</text>
<text x="1176.40" y="383.34" font-size="8.4" stroke="#000" stroke-width="0.14" text-anchor="end">3.321</text>
<text x="27.20" y="395.10" font-size="8.3" stroke="#000" stroke-width="0.14" textLength="33.7" lengthAdjust="spacingAndGlyphs">Basilicata</text>
<text x="192.96" y="394.70" font-size="8.4" stroke="#000" stroke-width="0.14" text-anchor="end">69</text>
<text x="258.52" y="394.70" font-size="8.4" stroke="#000" stroke-width="0.14" text-anchor="end">4</text>
<text x="324.09" y="394.70" font-size="8.4" stroke="#000" stroke-width="0.14" text-anchor="end">0</text>
<text x="389.65" y="394.70" font-size="8.4" stroke="#000" stroke-width="0.14" text-anchor="end">3.273</text>
<text x="455.21" y="394.70" font-size="8.4" stroke="#000" stroke-width="0.14" text-anchor="end">3.346</text>
<text x="520.77" y="394.70" font-size="8.4" stroke="#000" stroke-width="0.14" text-anchor="end">10.397</text>
<text x="586.34" y="394.70" font-size="8.4" stroke="#000" stroke-width="0.14" text-anchor="end">350</text>
<text x="651.90" y="394.70" font-size="8.4" stroke="#000" stroke-width="0.14" text-anchor="end">14.093</text>
<text x="717.46" y="394.70" font-size="8.4" stroke="#000" stroke-width="0.14" text-anchor="end">0</text>
<text x="783.02" y="394.70" font-size="8.4" stroke="#000" stroke-width="0.14" text-anchor="end">14.093</text>
<text x="848.59" y="394.70" font-size="8.4" stroke="#000" stroke-width="0.14" text-anchor="end">90</text>
<text x="914.15" y="394.70" font-size="8.4" stroke="#000" stroke-width="0.14" text-anchor="end">135.300</text>
<text x="979.71" y="394.70" font-size="8.4" stroke="#000" stroke-width="0.14" text-anchor="end">220.849</text>
<text x="1045.28" y="394.70" font-size="8.4" stroke="#000" stroke-width="0.14" text-anchor="end">6.071</text>
<text x="1110.84" y="394.70" font-size="8.4" stroke="#000" stroke-width="0.14" text-anchor="end">226.920</text>
<text x="1176.40" y="394.70" font-size="8.4" stroke="#000" stroke-width="0.14" text-anchor="end">1.003</text>
<text x="27.20" y="406.46" font-size="8.3" stroke="#000" stroke-width="0.14" textLength="22.8" lengthAdjust="spacingAndGlyphs">Molise</text>
<text x="192.96" y="406.06" font-size="8.4" stroke="#000" stroke-width="0.14" text-anchor="end">64</text>
<text x="258.52" y="406.06" font-size="8.4" stroke="#000" stroke-width="0.14" text-anchor="end">8</text>
<text x="324.09" y="406.06" font-size="8.4" stroke="#000" stroke-width="0.14" text-anchor="end">2</text>
<text x="389.65" y="406.06" font-size="8.4" stroke="#000" stroke-width="0.14" text-anchor="end">1.460</text>
<text x="455.21" y="406.06" font-size="8.4" stroke="#000" stroke-width="0.14" text-anchor="end">1.532</text>
<text x="520.77" y="406.06" font-size="8.4" stroke="#000" stroke-width="0.14" text-anchor="end">7.463</text>
<text x="586.34" y="406.06" font-size="8.4" stroke="#000" stroke-width="0.14" text-anchor="end">303</text>
<text x="651.90" y="406.06" font-size="8.4" stroke="#000" stroke-width="0.14" text-anchor="end">9.298</text>
<text x="717.46" y="406.06" font-size="8.4" stroke="#000" stroke-width="0.14" text-anchor="end">0</text>
<text x="783.02" y="406.06" font-size="8.4" stroke="#000" stroke-width="0.14" text-anchor="end">9.298</text>
<text x="848.59" y="406.06" font-size="8.4" stroke="#000" stroke-width="0.14" text-anchor="end">107</text>
<text x="914.15" y="406.06" font-size="8.4" stroke="#000" stroke-width="0.14" text-anchor="end">133.476</text>
<text x="979.71" y="406.06" font-size="8.4" stroke="#000" stroke-width="0.14" text-anchor="end">147.290</text>
<text x="1045.28" y="406.06" font-size="8.4" stroke="#000" stroke-width="0.14" text-anchor="end">288</text>
<text x="1110.84" y="406.06" font-size="8.4" stroke="#000" stroke-width="0.14" text-anchor="end">147.578</text>
<text x="1176.40" y="406.06" font-size="8.4" stroke="#000" stroke-width="0.14" text-anchor="end">1.116</text>
<text x="27.20" y="417.82" font-size="8.3" stroke="#000" stroke-width="0.14" textLength="45.2" lengthAdjust="spacingAndGlyphs">Valle d&#39;Aosta</text>
<text x="192.96" y="417.42" font-size="8.4" stroke="#000" stroke-width="0.14" text-anchor="end">14</text>
<text x="258.52" y="417.42" font-size="8.4" stroke="#000" stroke-width="0.14" text-anchor="end">2</text>
<text x="324.09" y="417.42" font-size="8.4" stroke="#000" stroke-width="0.14" text-anchor="end">0</text>
<text x="389.65" y="417.42" font-size="8.4" stroke="#000" stroke-width="0.14" text-anchor="end">128</text>
<text x="455.21" y="417.42" font-size="8.4" stroke="#000" stroke-width="0.14" text-anchor="end">144</text>
<text x="520.77" y="417.42" font-size="8.4" stroke="#000" stroke-width="0.14" text-anchor="end">7.339</text>
<text x="586.34" y="417.42" font-size="8.4" stroke="#000" stroke-width="0.14" text-anchor="end">412</text>
<text x="651.90" y="417.42" font-size="8.4" stroke="#000" stroke-width="0.14" text-anchor="end">7.895</text>
<text x="717.46" y="417.42" font-size="8.4" stroke="#000" stroke-width="0.14" text-anchor="end">0</text>
<text x="783.02" y="417.42" font-size="8.4" stroke="#000" stroke-width="0.14" text-anchor="end">7.895</text>
<text x="848.59" y="417.42" font-size="8.4" stroke="#000" stroke-width="0.14" text-anchor="end">9</text>
<text x="914.15" y="417.42" font-size="8.4" stroke="#000" stroke-width="0.14" text-anchor="end">42.436</text>
<text x="979.71" y="417.42" font-size="8.4" stroke="#000" stroke-width="0.14" text-anchor="end">71.250</text>
<text x="1045.28" y="417.42" font-size="8.4" stroke="#000" stroke-width="0.14" text-anchor="end">2.025</text>
<text x="1110.84" y="417.42" font-size="8.4" stroke="#000" stroke-width="0.14" text-anchor="end">73.275</text>
<text x="1176.40" y="417.42" font-size="8.4" stroke="#000" stroke-width="0.14" text-anchor="end">457</text>
<text x="76.80" y="431.90" font-size="8.3" stroke="#000" stroke-width="0.14" text-anchor="middle" font-weight="bold" textLength="27.9" lengthAdjust="spacingAndGlyphs">TOTALE</text>
<text x="192.96" y="431.90" font-size="8.7" stroke="#000" stroke-width="0.14" text-anchor="end" font-weight="bold" textLength="24.7" lengthAdjust="spacingAndGlyphs">18.736</text>
<text x="258.52" y="431.90" font-size="8.7" stroke="#000" stroke-width="0.14" text-anchor="end" font-weight="bold" textLength="20.2" lengthAdjust="spacingAndGlyphs">2.095</text>
<text x="324.09" y="431.90" font-size="8.7" stroke="#000" stroke-width="0.14" text-anchor="end" font-weight="bold" textLength="13.5" lengthAdjust="spacingAndGlyphs">153</text>
<text x="389.65" y="431.90" font-size="8.7" stroke="#000" stroke-width="0.14" text-anchor="end" font-weight="bold" textLength="29.2" lengthAdjust="spacingAndGlyphs">381.343</text>
<text x="455.21" y="431.90" font-size="8.7" stroke="#000" stroke-width="0.14" text-anchor="end" font-weight="bold" textLength="29.2" lengthAdjust="spacingAndGlyphs">402.174</text>
<text x="520.77" y="431.90" font-size="8.7" stroke="#000" stroke-width="0.14" text-anchor="end" font-weight="bold" textLength="36.0" lengthAdjust="spacingAndGlyphs">2.202.077</text>
<text x="586.34" y="431.90" font-size="8.7" stroke="#000" stroke-width="0.14" text-anchor="end" font-weight="bold" textLength="24.7" lengthAdjust="spacingAndGlyphs">93.045</text>
<text x="651.90" y="431.90" font-size="8.7" stroke="#000" stroke-width="0.14" text-anchor="end" font-weight="bold" textLength="36.0" lengthAdjust="spacingAndGlyphs">2.667.756</text>
<text x="717.46" y="431.90" font-size="8.7" stroke="#000" stroke-width="0.14" text-anchor="end" font-weight="bold" textLength="24.7" lengthAdjust="spacingAndGlyphs">29.540</text>
<text x="783.02" y="431.90" font-size="8.7" stroke="#000" stroke-width="0.14" text-anchor="end" font-weight="bold" textLength="36.0" lengthAdjust="spacingAndGlyphs">2.697.296</text>
<text x="848.59" y="431.90" font-size="8.7" stroke="#000" stroke-width="0.14" text-anchor="end" font-weight="bold" textLength="24.7" lengthAdjust="spacingAndGlyphs">13.908</text>
<text x="914.15" y="431.90" font-size="8.7" stroke="#000" stroke-width="0.14" text-anchor="end" font-weight="bold" textLength="40.5" lengthAdjust="spacingAndGlyphs">18.134.000</text>
<text x="979.71" y="431.90" font-size="8.7" stroke="#000" stroke-width="0.14" text-anchor="end" font-weight="bold" textLength="40.5" lengthAdjust="spacingAndGlyphs">32.477.557</text>
<text x="1045.28" y="431.90" font-size="8.7" stroke="#000" stroke-width="0.14" text-anchor="end" font-weight="bold" textLength="36.0" lengthAdjust="spacingAndGlyphs">3.212.848</text>
<text x="1110.84" y="431.90" font-size="8.7" stroke="#000" stroke-width="0.14" text-anchor="end" font-weight="bold" textLength="40.5" lengthAdjust="spacingAndGlyphs">35.690.405</text>
<text x="1176.40" y="431.90" font-size="8.7" stroke="#000" stroke-width="0.14" text-anchor="end" font-weight="bold" textLength="29.2" lengthAdjust="spacingAndGlyphs">305.619</text>
<text x="27.20" y="460.90" font-size="8.5" stroke="#000" stroke-width="0.14" textLength="19.7" lengthAdjust="spacingAndGlyphs">Note:</text>
<text x="27.20" y="478.40" font-size="6.4" stroke="#000" stroke-width="0.04" textLength="587.0" lengthAdjust="spacingAndGlyphs">La Regione Emilia Romagna comunica che dal totale dei dati sui casi confermati già comunicati sono stati eliminati 15 casi, positivi a test antigenico ma non confermati successivamente da tampone molecolare.</text>
</svg>
</body></html>
